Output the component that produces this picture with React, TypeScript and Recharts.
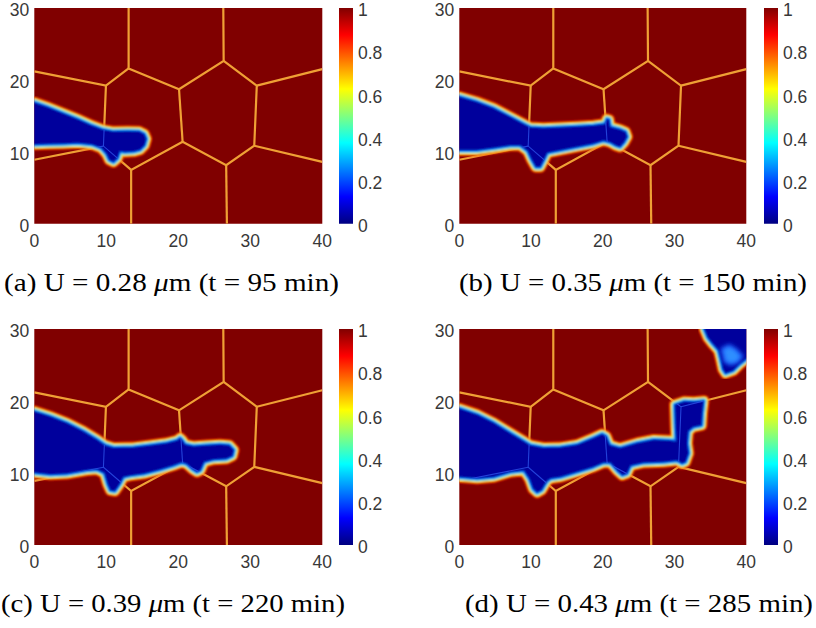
import React from 'react';
import { ScatterChart, Scatter, XAxis, YAxis, ReferenceArea } from 'recharts';

// ---------- data ----------
const xTicks = [0, 10, 20, 30, 40];
const yTicks = [0, 10, 20, 30];
const colorbarTicks = [0, 0.2, 0.4, 0.6, 0.8, 1];

const panelLetters = ['a', 'b', 'c', 'd'];
const displacements = ['0.28', '0.35', '0.39', '0.43'];
const times = ['95', '150', '220', '285'];

// grain boundary polylines (x, y in µm)
const grainBoundaries: number[][][] = [
  [[13.1, 30], [13.1, 21.6], [20.1, 18.7], [26.3, 22.65], [26.25, 30]],
  [[0, 21.2], [9.95, 19.2], [13.1, 21.6]],
  [[9.95, 19.2], [9.6, 10.8], [13.45, 7.5], [20.6, 11.4], [26.65, 8.15], [30.55, 10.85], [30.9, 19.2], [26.3, 22.65]],
  [[0, 8.9], [9.6, 10.8]],
  [[13.45, 7.5], [13.45, 0]],
  [[20.1, 18.7], [20.6, 11.4]],
  [[26.65, 8.15], [26.75, 0]],
  [[30.9, 19.2], [40, 21.5]],
  [[30.55, 10.85], [40, 8.6]],
];

// crack (phase field ~ 0) outlines
const crackA: number[][] = [
  [-0.8, 16.9], [0, 16.9], [2, 16.2], [4, 15.4], [6, 14.6], [8, 13.7], [9.6, 13.1], [11, 12.85], [13, 12.9], [14.6, 12.85],
  [15.3, 12.5], [15.6, 11.8], [15.35, 10.9], [14.7, 10.25], [13.8, 10.0], [12.5, 9.95], [11.9, 10.1], [11.6, 9.1],
  [11.0, 8.55], [10.4, 8.85], [10.0, 9.7], [9.3, 10.5], [8, 11.0], [6, 11.2], [4, 11.1], [2, 11.05], [0, 11.0], [-0.8, 11.0],
];
const crackB: number[][] = [
  [-0.8, 17.7], [0, 17.7], [2.4, 17.0], [4.8, 16.1], [7.1, 14.9], [9.0, 13.9], [9.9, 13.45], [11.7, 13.35], [14.1, 13.45],
  [16.4, 13.55], [18.7, 13.7], [20.3, 13.9], [20.55, 14.6], [20.9, 14.5], [21.05, 13.5], [22.4, 13.15], [23.2, 12.8],
  [23.45, 12.1], [23.0, 11.3], [22.4, 10.65], [21.8, 10.85], [21.0, 11.3], [20.1, 11.55], [18.7, 11.1], [16.4, 10.65],
  [14.1, 10.2], [12.3, 9.85], [11.85, 8.9], [11.3, 7.85], [10.65, 7.85], [10.05, 8.9], [9.5, 10.1], [8.5, 10.85],
  [7.1, 10.85], [4.8, 10.5], [2.4, 10.2], [0, 10.2], [-0.8, 10.2],
];
const crackC: number[][] = [
  [-0.8, 18.6], [0, 18.6], [2.2, 17.9], [4.5, 17.0], [6.8, 15.85], [8.7, 14.7], [9.85, 13.9], [11.0, 13.55], [13.8, 13.6],
  [16.1, 13.9], [18.4, 14.2], [19.8, 14.55], [20.25, 14.9], [20.6, 14.55], [20.95, 14.0], [22.1, 13.75], [24.0, 13.9],
  [25.8, 14.0], [27.1, 13.9], [27.75, 13.2], [27.55, 12.35], [26.7, 11.95], [24.9, 11.85], [23.6, 11.5], [23.1, 10.35],
  [22.6, 10.1], [21.9, 10.55], [21.2, 11.2], [20.5, 11.45], [19.3, 11.0], [17.5, 10.45], [15.2, 9.85], [13.3, 9.6],
  [12.4, 9.4], [11.9, 8.45], [11.2, 7.45], [10.55, 7.55], [10.15, 8.45], [9.7, 9.95], [8.7, 10.45], [7.3, 10.35],
  [4.5, 9.85], [2.2, 9.75], [0, 10.0], [-0.8, 10.0],
];
const crackD: number[][] = [
  [-0.8, 19.0], [0, 19.0], [2.5, 18.15], [4.8, 17.0], [7.1, 15.6], [9.0, 14.45], [9.9, 13.9], [11.75, 13.55], [14.1, 13.6],
  [16.4, 13.95], [18.7, 14.9], [19.9, 15.45], [20.5, 15.1], [21.0, 13.9], [22.4, 13.5], [24.8, 14.2], [27.1, 14.65],
  [29.4, 14.55], [30.2, 14.4], [30.1, 16.4], [30.0, 19.5], [31.3, 19.95], [32.7, 19.9], [34.1, 20.05], [33.9, 18.3],
  [33.8, 16.6], [32.6, 16.35], [31.95, 15.8], [31.8, 14.1], [32.0, 12.75], [31.55, 11.5], [31.05, 11.3], [30.35, 11.7],
  [28.5, 11.5], [25.7, 11.4], [23.9, 11.0], [23.4, 9.9], [22.7, 9.65], [22.0, 10.3], [21.05, 11.4], [20.1, 11.4],
  [18.7, 10.8], [16.4, 10.1], [14.1, 9.4], [12.7, 9.2], [12.2, 8.8], [11.5, 7.6], [10.85, 7.25], [10.25, 7.8],
  [9.75, 9.15], [9.0, 10.3], [7.1, 10.1], [4.8, 9.4], [2.5, 9.2], [0, 9.4], [-0.8, 9.4],
];
const blobD: number[][] = [
  [34.0, 31], [34.1, 30], [34.6, 28.8], [35.3, 27.9], [36.1, 27.0], [36.4, 25.8], [36.7, 24.4], [37.1, 23.8],
  [38.2, 24.2], [39.1, 25.1], [40, 25.8], [41, 26.2], [41, 31],
];
const blobPatchD: number[][] = [
  [36.6, 27.2], [37.6, 27.7], [38.6, 27.1], [39.4, 26.2], [38.8, 25.4], [37.8, 25.1], [37.0, 25.5], [36.8, 26.4],
];

const mainCracks = [crackA, crackB, crackC, crackD];
const extraCracks = [[], [], [], [blobD]];
const patches = [[], [], [], [blobPatchD]];

// ---------- layout ----------
const panelLayout = [
  { plotLeft: 34.3, plotTop: 7.5, plotW: 288, plotH: 215.8, cbLeft: 339.3, capX: 4, capW: 335, capY: 291 },
  { plotLeft: 459, plotTop: 7.5, plotW: 287, plotH: 215.8, cbLeft: 764, capX: 459, capW: 348, capY: 291 },
  { plotLeft: 34.3, plotTop: 329, plotW: 288, plotH: 216, cbLeft: 339.3, capX: 1, capW: 344, capY: 612 },
  { plotLeft: 459, plotTop: 329, plotW: 287, plotH: 216, cbLeft: 764, capX: 465, capW: 348, capY: 612 },
];

const Y_AXIS_W = 34.3;
const CB_W = 14;
const tickStyle = { fill: '#383838', fontSize: 17.5, fontFamily: 'Liberation Sans, Arial, sans-serif' };
const yTickStyle = { ...tickStyle, dy: 2 };

const toPts = (arr: number[][]) => arr.map(([x, y]) => ({ x, y }));

const rings: [string, number][] = [
  ['#ff2000', 11],
  ['#ff9a00', 9],
  ['#e6ff28', 7],
  ['#28e8ff', 5],
  ['#1060ff', 3],
];

const pathOf = (pts: { x: number; y: number }[], close = true) =>
  pts.map((p, i) => `${i === 0 ? 'M' : 'L'}${p.x.toFixed(2)},${p.y.toFixed(2)}`).join(' ') + (close ? ' Z' : '');

const makeCrackLine = (clipId?: string) => (props: any) => {
  const pts = props.points || [];
  if (!pts.length) return <g />;
  const d = pathOf(pts);
  return (
    <g>
      {clipId ? (
        <clipPath id={clipId}>
          <path d={d} />
        </clipPath>
      ) : null}
      <g filter="url(#soft)">
        {rings.map(([c, w]) => (
          <path key={c} d={d} fill="none" stroke={c} strokeWidth={w} strokeLinejoin="round" />
        ))}
        <path d={d} fill="#00009c" stroke="none" />
      </g>
    </g>
  );
};

const makeInnerBoundary = (clipId: string) => (props: any) => {
  const pts = props.points || [];
  if (!pts.length) return <g />;
  return (
    <path d={pathOf(pts, false)} fill="none" stroke="#2c52e8" strokeWidth={1.1} strokeOpacity={0.8} clipPath={`url(#${clipId})`} />
  );
};

function patchLine(props: any) {
  const pts = props.points || [];
  if (!pts.length) return <g />;
  return <path d={pathOf(pts)} fill="#2f8fff" stroke="#1a60ff" strokeWidth={3} strokeLinejoin="round" filter="url(#soft2)" />;
}

const noDot = () => <g />;

function Panel({ idx }: { idx: number }) {
  const L = panelLayout[idx];
  const chartW = Y_AXIS_W + L.plotW + 10;
  const chartH = 10 + L.plotH + 30;
  const clipId = `crackclip${idx}`;
  return (
    <div style={{ position: 'absolute', left: L.plotLeft - Y_AXIS_W, top: L.plotTop - 10 }}>
      <ScatterChart width={chartW} height={chartH} margin={{ top: 10, right: 10, bottom: 0, left: 0 }}>
        <XAxis
          type="number"
          dataKey="x"
          domain={[0, 40]}
          ticks={xTicks}
          interval={0}
          allowDataOverflow
          axisLine={false}
          tickLine={false}
          tickSize={0}
          tickMargin={11}
          height={30}
          tick={tickStyle}
        />
        <YAxis
          type="number"
          dataKey="y"
          domain={[0, 30]}
          ticks={yTicks}
          interval={0}
          allowDataOverflow
          axisLine={false}
          tickLine={false}
          tickSize={0}
          tickMargin={5}
          width={Y_AXIS_W}
          tick={yTickStyle}
        />
        <ReferenceArea x1={0} x2={40} y1={0} y2={30} fill="#800000" fillOpacity={1} stroke="none" />
        {grainBoundaries.map((gb, i) => (
          <Scatter
            key={`gb${i}`}
            data={toPts(gb)}
            fill="#efa035"
            shape={noDot}
            line={{ stroke: '#efa035', strokeWidth: 2.2 }}
            lineJointType="linear"
            isAnimationActive={false}
          />
        ))}
        <Scatter
          key="main"
          data={toPts(mainCracks[idx])}
          fill="#00009c"
          shape={noDot}
          line={makeCrackLine(clipId)}
          isAnimationActive={false}
        />
        {extraCracks[idx].map((c, i) => (
          <Scatter key={`cr${i}`} data={toPts(c)} fill="#00009c" shape={noDot} line={makeCrackLine()} isAnimationActive={false} />
        ))}
        {patches[idx].map((c, i) => (
          <Scatter key={`pa${i}`} data={toPts(c)} fill="#2f8fff" shape={noDot} line={patchLine} isAnimationActive={false} />
        ))}
        {grainBoundaries.map((gb, i) => (
          <Scatter
            key={`gbi${i}`}
            data={toPts(gb)}
            fill="#2c52e8"
            shape={noDot}
            line={makeInnerBoundary(clipId)}
            isAnimationActive={false}
          />
        ))}
      </ScatterChart>
    </div>
  );
}

function ColorBar({ idx }: { idx: number }) {
  const L = panelLayout[idx];
  return (
    <div style={{ position: 'absolute', left: L.cbLeft, top: L.plotTop - 10 }}>
      <ScatterChart width={CB_W + 45} height={L.plotH + 32} margin={{ top: 10, right: 45, bottom: 22, left: 0 }}>
        <XAxis type="number" dataKey="x" domain={[0, 1]} hide allowDataOverflow />
        <YAxis
          type="number"
          dataKey="y"
          orientation="right"
          domain={[0, 1]}
          ticks={colorbarTicks}
          interval={0}
          allowDataOverflow
          axisLine={false}
          tickLine={false}
          tickSize={0}
          tickMargin={5}
          width={0.001}
          tick={yTickStyle}
        />
        <ReferenceArea x1={0} x2={1} y1={0} y2={1} fill="url(#jet)" fillOpacity={1} stroke="none" />
      </ScatterChart>
    </div>
  );
}

function Caption({ idx }: { idx: number }) {
  const L = panelLayout[idx];
  return (
    <text
      x={L.capX}
      y={L.capY}
      textLength={L.capW}
      lengthAdjust="spacingAndGlyphs"
      fontFamily="Liberation Serif, 'Times New Roman', serif"
      fontSize={25}
      fill="#000"
    >
      {`(${panelLetters[idx]}) U = ${displacements[idx]} `}
      <tspan fontStyle="italic">μ</tspan>
      {`m (t = ${times[idx]} min)`}
    </text>
  );
}

export default function App() {
  return (
    <div style={{ position: 'absolute', left: 0, top: 0, width: 816, height: 628, background: '#fff', overflow: 'hidden' }}>
      <svg width={0} height={0} style={{ position: 'absolute' }}>
        <defs>
          <linearGradient id="jet" x1="0" y1="0" x2="0" y2="1">
            <stop offset="0" stopColor="#800000" />
            <stop offset="0.125" stopColor="#ff0000" />
            <stop offset="0.375" stopColor="#ffff00" />
            <stop offset="0.5" stopColor="#80ff80" />
            <stop offset="0.625" stopColor="#00ffff" />
            <stop offset="0.875" stopColor="#0000ff" />
            <stop offset="1" stopColor="#000080" />
          </linearGradient>
          <filter id="soft" x="-10%" y="-10%" width="120%" height="120%">
            <feGaussianBlur stdDeviation="0.8" />
          </filter>
          <filter id="soft2" x="-20%" y="-20%" width="140%" height="140%">
            <feGaussianBlur stdDeviation="2" />
          </filter>
        </defs>
      </svg>
      {[0, 1, 2, 3].map((i) => (
        <React.Fragment key={i}>
          <Panel idx={i} />
          <ColorBar idx={i} />
        </React.Fragment>
      ))}
      <svg width={816} height={628} style={{ position: 'absolute', left: 0, top: 0, pointerEvents: 'none' }}>
        {[0, 1, 2, 3].map((i) => (
          <Caption key={i} idx={i} />
        ))}
      </svg>
    </div>
  );
}
